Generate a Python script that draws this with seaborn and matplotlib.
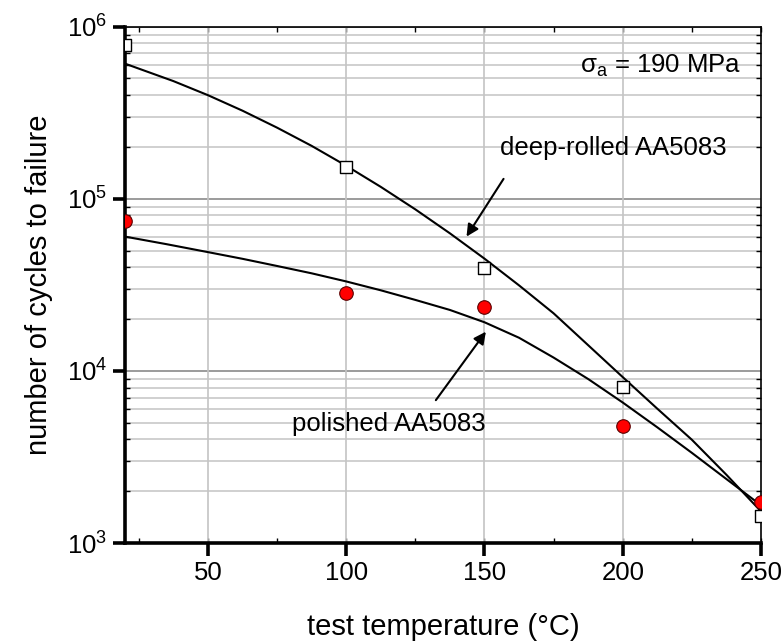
import matplotlib
matplotlib.use("Agg")
import matplotlib.pyplot as plt
import matplotlib.ticker as mticker
import seaborn as sns
import pandas as pd
import numpy as np

# ---- data ----
temps = [20, 100, 150, 200, 250]
deep_rolled_pts = [7.83e5, 1.53e5, 3.95e4, 8.1e3, 1.43e3]
polished_pts = [7.41e4, 2.82e4, 2.36e4, 4.8e3, 1.72e3]

deep_curve_t = [20, 37.5, 50, 62.5, 75, 87.5, 100, 112.5, 125, 137.5, 150,
                162.5, 175, 187.5, 200, 212.5, 225, 237.5, 250]
deep_rolled_fit = [6.10e5, 4.83e5, 4.0e5, 3.25e5, 2.59e5, 2.03e5, 1.556e5, 1.173e5,
                   8.68e4, 6.30e4, 4.49e4, 3.14e4, 2.16e4, 1.41e4, 9.2e3, 6.03e3,
                   3.98e3, 2.49e3, 1.526e3]
pol_curve_t = [20, 35, 50, 62.5, 75, 87.5, 100, 112.5, 125, 137.5, 150, 162.5, 175,
               187.5, 200, 212.5, 225, 250]
polished_fit = [6.03e4, 5.45e4, 4.90e4, 4.48e4, 4.07e4, 3.69e4, 3.31e4, 2.94e4, 2.585e4,
                2.26e4, 1.917e4, 1.558e4, 1.195e4, 8.97e3, 6.55e3, 4.70e3, 3.34e3, 1.656e3]

x_ticks = [50, 100, 150, 200, 250]

plt.rcParams.update({
    'font.family': ['Liberation Sans', 'DejaVu Sans'],
    'mathtext.fontset': 'custom',
    'mathtext.rm': 'Liberation Sans',
    'mathtext.it': 'Liberation Sans:italic',
    'mathtext.sf': 'Liberation Sans',
    'text.color': 'black', 'axes.labelcolor': 'black',
    'xtick.color': 'black', 'ytick.color': 'black', 'axes.edgecolor': 'black',
    'axes.facecolor': 'white', 'figure.facecolor': 'white',
    'axes.axisbelow': True,
    'xtick.major.pad': 4, 'ytick.major.pad': 4,
    'xtick.labelsize': 18.5, 'ytick.labelsize': 18.5,
})

fig = plt.figure(figsize=(7.84, 6.43), dpi=100)
ax = fig.add_axes([0.1594, 0.1555, 0.9707 - 0.1594, 0.9585 - 0.1555])

pts = pd.DataFrame({"T": temps, "deep": deep_rolled_pts, "pol": polished_pts})
fit_d = pd.DataFrame({"T": deep_curve_t, "N": deep_rolled_fit})
fit_p = pd.DataFrame({"T": pol_curve_t, "N": polished_fit})

sns.lineplot(data=fit_d, x="T", y="N", ax=ax, color="black", lw=1.5, zorder=3)
sns.lineplot(data=fit_p, x="T", y="N", ax=ax, color="black", lw=1.5, zorder=3)
sns.scatterplot(data=pts, x="T", y="deep", ax=ax, marker="s", s=80,
                facecolor="white", edgecolor="black", linewidth=1.0, zorder=4)
sns.scatterplot(data=pts, x="T", y="pol", ax=ax, marker="o", s=95,
                facecolor="#ff0000", edgecolor="#5a0000", linewidth=0.8, zorder=4)

ax.set_yscale("log")
ax.set_xlim(20, 250)
ax.set_ylim(1e3, 1e6)
ax.set_xticks(x_ticks)
ax.xaxis.set_minor_locator(mticker.MultipleLocator(25))
ax.xaxis.remove_overlapping_locs = False
ax.yaxis.set_major_locator(mticker.LogLocator(base=10, numticks=10))
ax.yaxis.set_minor_locator(mticker.LogLocator(base=10, subs=np.arange(2, 10), numticks=20))
ax.yaxis.set_minor_formatter(mticker.NullFormatter())

# grid
for v in [50, 100, 150, 200]:
    ax.axvline(v, color="#c4c4c4", lw=1.2, zorder=1)
ax.grid(True, which="minor", axis="y", color="#c8c8c8", lw=1.2)
ax.grid(True, which="major", axis="y", color="#8a8a8a", lw=1.2)
ax.grid(False, which="both", axis="x")

for s in ["left", "bottom"]:
    ax.spines[s].set_linewidth(2.6)
for s in ["top", "right"]:
    ax.spines[s].set_linewidth(1.2)

# major: outward on bottom/left only; minor: inward on all four sides
ax.tick_params(which="major", direction="out", length=9, width=2.6, colors="black",
               bottom=True, left=True, top=False, right=False)
ax.tick_params(which="minor", direction="in", length=3.5, width=1.0, colors="black",
               bottom=True, left=True, top=True, right=True)

ax.set_xlabel("test temperature (°C)", fontsize=21, labelpad=20)
ax.set_ylabel("number of cycles to failure", fontsize=21, labelpad=10)

ax.text(184.5, 5.92e5, r"σ$_\mathrm{a}$ = 190 MPa", fontsize=18.5, va="center", ha="left")

ax.annotate("deep-rolled AA5083", xy=(143.5, 6.03e4), xytext=(155.6, 1.98e5),
            fontsize=18.5, va="center", ha="left",
            arrowprops=dict(arrowstyle="-|>", color="black", lw=1.5, mutation_scale=18,
                            shrinkA=14, shrinkB=0, relpos=(0.07, 0.0)))
ax.annotate("polished AA5083", xy=(150.5, 1.69e4), xytext=(80.3, 4.92e3),
            fontsize=18.5, va="center", ha="left",
            arrowprops=dict(arrowstyle="-|>", color="black", lw=1.5, mutation_scale=18,
                            shrinkA=8, shrinkB=0, relpos=(0.7, 1.0)))

fig.savefig("out.png", dpi=100)
